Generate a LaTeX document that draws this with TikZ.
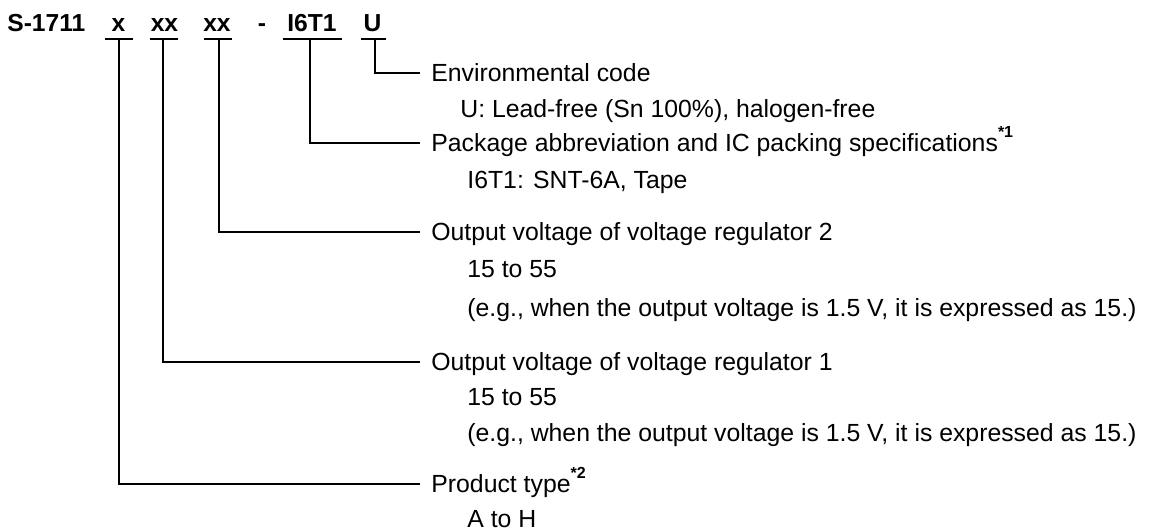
\documentclass[tikz,border=0pt]{standalone}
\usepackage{fontspec}
\setmainfont{Liberation Sans}
\usetikzlibrary{positioning}

\tikzset{
  code/.style={font=\fontsize{12.3}{14}\selectfont\bfseries, anchor=base, inner sep=0pt},
  field/.style={anchor=west, inner xsep=5.5pt, inner ysep=0pt, text height=8.4pt, text depth=0pt},
  note/.style={anchor=base west, inner sep=0pt},
  lead/.style={line width=0.9pt},
}
\newcommand{\fnmark}[1]{\raisebox{7pt}{\fontsize{8}{9}\selectfont\bfseries *#1}}

\begin{document}
\begin{tikzpicture}[x=0.5pt, y=-0.5pt, font=\fontsize{12.4}{14}\selectfont]
    \useasboundingbox (0,0) rectangle (1150,530);

    % Product code
    \node[code, anchor=base west] (series) at (7,31.5) {S-1711};
    \node[code] (ptype) at (118.5,31.5) {x};
    \node[code] (vreg1) at (164.5,31.5) {xx};
    \node[code] (vreg2) at (217,31.5) {xx};
    \node[code] (dash) at (262,31.5) {-};
    \node[code] (pkg) at (312,31.5) {I6T1};
    \node[code] (env) at (372.5,31.5) {U};

    % Underlines
    \foreach \a/\b in {105/133, 150/178, 204/232, 283/342, 361/386}
        \draw[lead] (\a,39) -- (\b,39);

    \coordinate (bPtype) at (119,39);
    \coordinate (bVreg1) at (163,39);
    \coordinate (bVreg2) at (219,39);
    \coordinate (bPkg) at (310,39);
    \coordinate (bEnv) at (375,39);

    % Fields
    \node[field] (envtxt) at (420,73) {Environmental code};
    \node[note] (envval) at (460,117) {U: Lead-free (Sn 100\%), halogen-free};

    \node[field] (pkgtxt) at (420,143) {Package abbreviation and IC packing specifications\fnmark{1}};
    \node[note] (pkgval) at (467,188) {I6T1: SNT-6A, Tape};

    \node[field] (vreg2txt) at (420,232) {Output voltage of voltage regulator 2};
    \node[note] (vreg2val) at (467,277) {15 to 55};
    \node[note] (vreg2ex) at (467,316) {(e.g., when the output voltage is 1.5 V, it is expressed as 15.)};

    \node[field] (vreg1txt) at (420,362) {Output voltage of voltage regulator 1};
    \node[note] (vreg1val) at (467,405) {15 to 55};
    \node[note] (vreg1ex) at (467,441) {(e.g., when the output voltage is 1.5 V, it is expressed as 15.)};

    \node[field] (ptypetxt) at (420,484) {Product type\fnmark{2}};
    \node[note] (ptypeval) at (467,527) {A to H};

    % Leaders
    \draw[lead] (bEnv) |- (envtxt.west);
    \draw[lead] (bPkg) |- (pkgtxt.west);
    \draw[lead] (bVreg2) |- (vreg2txt.west);
    \draw[lead] (bVreg1) |- (vreg1txt.west);
    \draw[lead] (bPtype) |- (ptypetxt.west);
\end{tikzpicture}
\end{document}
